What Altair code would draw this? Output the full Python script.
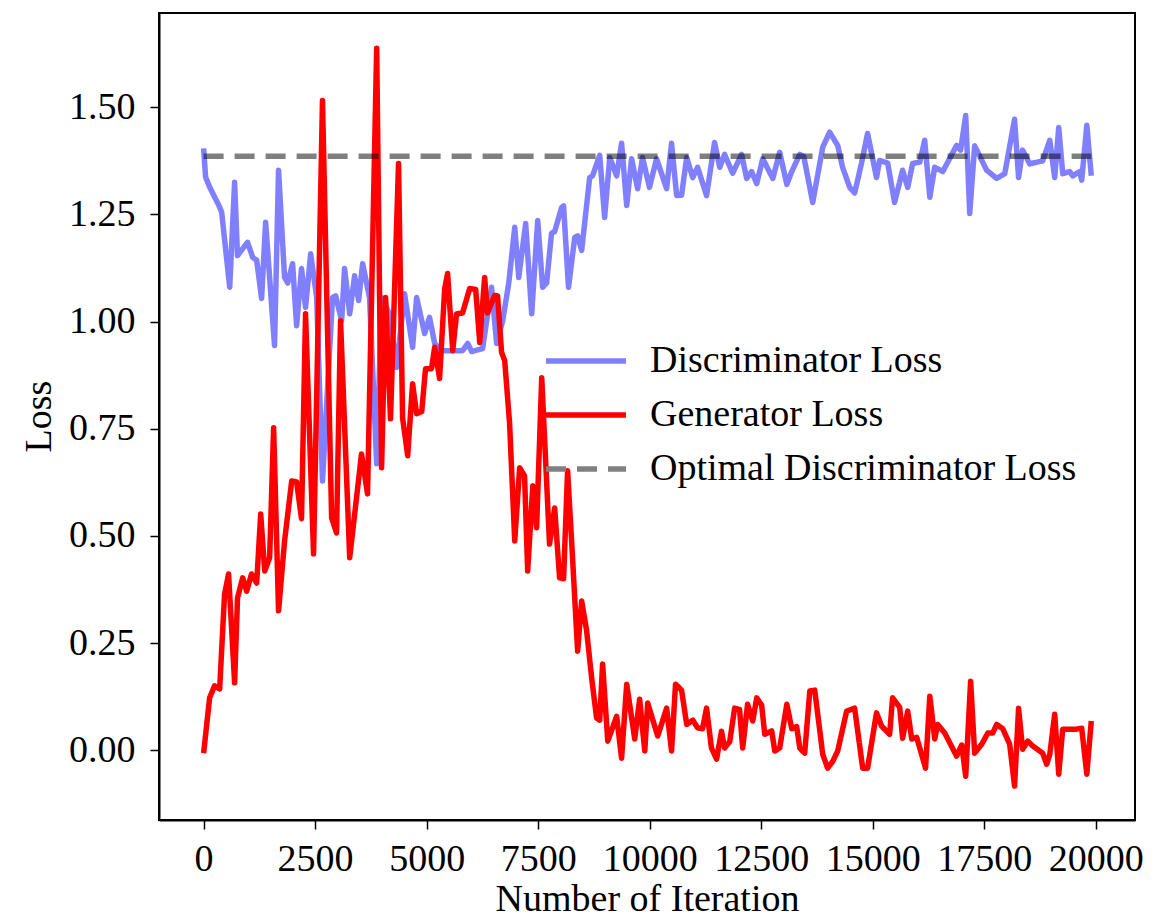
import altair as alt
import pandas as pd

# ---- data ----
disc_iter = [0, 45, 135, 360, 405, 585, 695, 760, 985, 1100, 1190, 1300, 1390, 1590, 1680, 1815, 1885,
             1995, 2085, 2195, 2285, 2400, 2535, 2665, 2890, 2960, 3095, 3160, 3275, 3385, 3475, 3565,
             3720, 3880, 3990, 4170, 4325, 4505, 4685, 4775, 4955, 5065, 5180, 5290, 5405, 5805, 5920,
             6010, 6255, 6455, 6570, 6705, 6840, 6975, 7065, 7220, 7355, 7490, 7600, 7690, 7800, 7870,
             8025, 8070, 8180, 8320, 8385, 8475, 8655, 8720, 8880, 8990, 9105, 9260, 9370, 9485, 9595,
             9730, 9840, 9995, 10155, 10380, 10490, 10605, 10715, 10830, 10965, 11075, 11275, 11455,
             11570, 11680, 11860, 12060, 12175, 12285, 12400, 12535, 12760, 12915, 13075, 13185, 13365,
             13455, 13655, 13880, 14035, 14215, 14325, 14485, 14595, 14750, 14885, 15085, 15155, 15335,
             15490, 15670, 15785, 15895, 16055, 16165, 16280, 16390, 16570, 16880, 16970, 17085, 17175,
             17285, 17555, 17780, 17960, 18180, 18270, 18360, 18520, 18810, 18970, 19080, 19170, 19260,
             19415, 19485, 19640, 19685, 19800, 19900]
disc_loss = [1.404, 1.337, 1.314, 1.267, 1.255, 1.080, 1.325, 1.154, 1.185, 1.150, 1.143, 1.054, 1.232,
             0.944, 1.353, 1.103, 1.090, 1.135, 0.990, 1.124, 1.033, 1.158, 1.056, 0.628, 1.056, 1.060,
             1.002, 1.124, 1.018, 1.107, 1.049, 1.135, 1.056, 0.668, 1.056, 1.018, 0.893, 1.065, 0.940,
             1.056, 0.972, 1.010, 0.949, 0.935, 0.932, 0.932, 0.949, 0.930, 0.937, 1.080, 0.949, 1.002,
             1.089, 1.220, 1.103, 1.229, 1.018, 1.236, 1.080, 1.090, 1.206, 1.210, 1.266, 1.270, 1.080,
             1.196, 1.200, 1.166, 1.336, 1.340, 1.388, 1.243, 1.383, 1.340, 1.416, 1.271, 1.380, 1.310,
             1.383, 1.313, 1.380, 1.310, 1.416, 1.294, 1.295, 1.383, 1.336, 1.360, 1.294, 1.418, 1.360,
             1.390, 1.346, 1.390, 1.334, 1.350, 1.322, 1.380, 1.334, 1.395, 1.320, 1.350, 1.390, 1.385,
             1.278, 1.407, 1.442, 1.411, 1.360, 1.313, 1.300, 1.370, 1.439, 1.336, 1.376, 1.370, 1.278,
             1.353, 1.313, 1.369, 1.372, 1.423, 1.290, 1.360, 1.350, 1.411, 1.400, 1.481, 1.252, 1.410,
             1.353, 1.334, 1.345, 1.472, 1.336, 1.400, 1.368, 1.375, 1.423, 1.336, 1.453, 1.345, 1.350,
             1.340, 1.350, 1.330, 1.458, 1.340]

gen_iter = [0, 135, 245, 360, 470, 560, 695, 760, 875, 965, 1075, 1190, 1280, 1370, 1480, 1570, 1680,
            1815, 1975, 2085, 2195, 2285, 2465, 2665, 2870, 2980, 3070, 3275, 3540, 3675, 3880, 3990,
            4080, 4190, 4370, 4460, 4575, 4685, 4775, 4890, 4975, 5110, 5180, 5290, 5405, 5470, 5585,
            5670, 5805, 5965, 6100, 6190, 6300, 6365, 6525, 6590, 6680, 6750, 6860, 6975, 7085, 7195,
            7265, 7380, 7465, 7580, 7755, 7870, 7980, 8070, 8160, 8250, 8320, 8385, 8475, 8585, 8700,
            8810, 8880, 8945, 9060, 9260, 9370, 9485, 9665, 9775, 9890, 9955, 10180, 10380, 10490, 10580,
            10715, 10830, 10965, 11075, 11185, 11275, 11385, 11500, 11610, 11680, 11795, 11905, 12015,
            12085, 12195, 12310, 12400, 12510, 12580, 12735, 12805, 12915, 13075, 13185, 13295, 13365,
            13475, 13590, 13700, 13880, 13990, 14105, 14215, 14415, 14595, 14775, 14885, 15085, 15200,
            15380, 15445, 15605, 15670, 15785, 15875, 15985, 16185, 16280, 16390, 16455, 16615, 16880,
            16995, 17085, 17195, 17285, 17445, 17580, 17690, 17780, 17915, 18070, 18180, 18270, 18360,
            18475, 18585, 18810, 18900, 18970, 19080, 19170, 19260, 19570, 19685, 19800, 19900]
gen_loss = [-0.007, 0.122, 0.150, 0.143, 0.364, 0.411, 0.157, 0.355, 0.402, 0.371, 0.411, 0.390, 0.551,
            0.418, 0.449, 0.752, 0.325, 0.488, 0.628, 0.626, 0.540, 1.018, 0.458, 1.516, 0.542, 0.507,
            1.002, 0.449, 0.691, 0.598, 1.638, 0.659, 1.056, 0.773, 1.369, 0.776, 0.687, 0.855, 0.785,
            0.790, 0.890, 0.890, 0.940, 0.867, 1.077, 1.112, 0.932, 1.018, 1.020, 1.077, 1.075, 0.951,
            1.103, 1.020, 1.061, 1.060, 0.928, 0.909, 0.762, 0.488, 0.659, 0.640, 0.418, 0.617, 0.519,
            0.869, 0.481, 0.565, 0.402, 0.400, 0.652, 0.488, 0.355, 0.231, 0.348, 0.280, 0.168, 0.075,
            0.070, 0.201, 0.021, 0.079, -0.019, 0.154, 0.026, 0.119, -0.002, 0.110, 0.033, 0.098, -0.002,
            0.154, 0.140, 0.060, 0.070, 0.052, 0.050, 0.098, 0.005, -0.021, 0.044, 0.005, 0.020, 0.098,
            0.095, 0.005, 0.107, 0.068, 0.122, 0.105, 0.037, 0.045, -0.002, 0.005, 0.107, 0.050, 0.055,
            0.005, -0.007, 0.138, 0.140, -0.010, -0.042, -0.026, -0.002, 0.091, 0.098, -0.042, -0.042,
            0.087, 0.056, 0.037, 0.122, 0.100, 0.028, 0.091, 0.026, 0.030, -0.042, 0.126, 0.026, 0.060,
            0.040, -0.014, 0.012, -0.061, 0.161, -0.007, 0.014, 0.040, 0.040, 0.060, 0.050, 0.014,
            -0.084, 0.098, 0.002, 0.021, 0.010, -0.007, -0.033, -0.010, 0.084, -0.056, 0.049, 0.049,
            0.051, -0.056, 0.068]

opt_iter = [0, 19900]
opt_loss = [1.386, 1.386]

series_names = ["Discriminator Loss", "Generator Loss", "Optimal Discriminator Loss"]
series_colors = ["#8080ff", "#ff0000", "#808080"]
x_ticks = [0, 2500, 5000, 7500, 10000, 12500, 15000, 17500, 20000]
y_ticks = [0.0, 0.25, 0.5, 0.75, 1.0, 1.25, 1.5]

rows = []
for it, v in zip(disc_iter, disc_loss):
    rows.append({"iter": it, "loss": v, "series": series_names[0]})
for it, v in zip(gen_iter, gen_loss):
    rows.append({"iter": it, "loss": v, "series": series_names[1]})
df = pd.DataFrame(rows)
df_opt = pd.DataFrame({"iter": opt_iter, "loss": opt_loss})

FONT = "Liberation Serif"
FS = 38
LW = 5.5

x_enc = alt.X("iter:Q",
              scale=alt.Scale(domain=[-1000, 20880], nice=False, zero=False),
              axis=alt.Axis(values=x_ticks, format="d", title="Number of Iteration",
                            titleX=488, titleY=90, titleBaseline="alphabetic",
                            labelPadding=11))
y_enc = alt.Y("loss:Q",
              scale=alt.Scale(domain=[-0.163, 1.720], nice=False, zero=False),
              axis=alt.Axis(values=y_ticks, format=".2f", title="Loss",
                            titleX=-120, titleY=403, titleBaseline="middle", titleAngle=-90,
                            labelPadding=15))

lines = alt.Chart(df).mark_line(strokeWidth=LW, strokeJoin="round").encode(
    x=x_enc,
    y=y_enc,
    color=alt.Color("series:N",
                    scale=alt.Scale(domain=series_names, range=series_colors),
                    legend=alt.Legend(title=None, orient="none", legendX=404, legendY=325,
                                      symbolType="M-2,0H2", symbolSize=1600, symbolStrokeWidth=LW,
                                      labelFont=FONT, labelFontSize=FS, labelColor="black",
                                      labelOffset=41, rowPadding=12, padding=0, labelLimit=700)),
    strokeDash=alt.StrokeDash("series:N",
                              scale=alt.Scale(domain=series_names, range=[[1, 0], [1, 0], [20, 11]])),
)

optimal = alt.Chart(df_opt).mark_line(strokeWidth=LW, color="black", opacity=0.5,
                                      strokeDash=[20, 11]).encode(
    x="iter:Q",
    y="loss:Q",
)

chart = alt.layer(lines, optimal).properties(
    width=976, height=807,
    autosize=alt.AutoSizeParams(type="none"),
    padding={"left": 159, "top": 13, "right": 27, "bottom": 99},
    background="white",
).configure_view(
    stroke="black", strokeWidth=2
).configure_axis(
    grid=False, domainColor="black", domainWidth=2, tickColor="black", tickWidth=1.5, tickSize=9,
    labelFont=FONT, labelFontSize=FS, labelColor="black", labelFlush=False, labelOverlap=False,
    titleFont=FONT, titleFontSize=FS, titleFontWeight="normal", titleColor="black"
)

chart.save("out.html", embed_options={"renderer": "svg", "actions": False})
